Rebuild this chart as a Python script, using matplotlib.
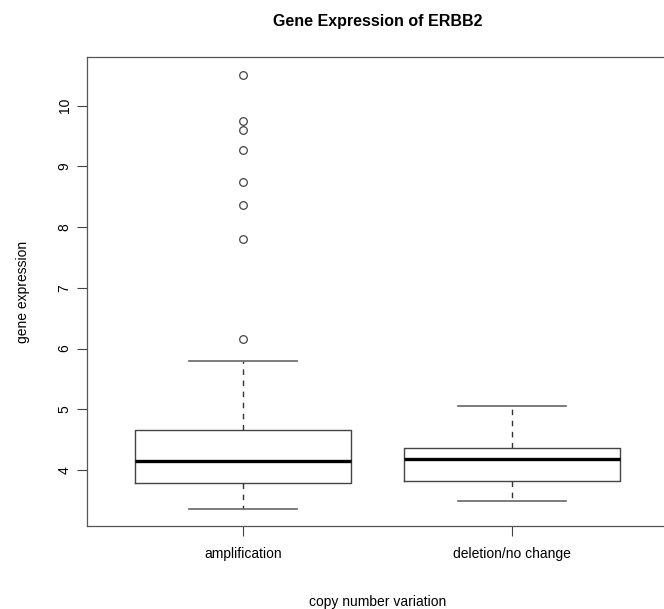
import matplotlib.pyplot as plt

plt.rcParams['font.family'] = ['Liberation Sans', 'DejaVu Sans']

# data
groups = ['amplification', 'deletion/no change']
whislo = [3.36, 3.49]
q1 = [3.79, 3.82]
med = [4.15, 4.18]
q3 = [4.66, 4.36]
whishi = [5.80, 5.05]
fliers_amp = [10.51, 9.75, 9.60, 9.26, 8.74, 8.37, 7.81, 6.15]
fliers_del = []
yticks = [4, 5, 6, 7, 8, 9, 10]

stats = []
for i, g in enumerate(groups):
    stats.append(dict(label=g, whislo=whislo[i], q1=q1[i], med=med[i],
                      q3=q3[i], whishi=whishi[i],
                      fliers=[fliers_amp, fliers_del][i]))

fig = plt.figure(figsize=(6.64, 6.09), dpi=100)
ax = fig.add_axes([0.131, 0.1355, 0.875, 0.771])

ax.bxp(stats, positions=[1, 2], widths=0.8,
       boxprops=dict(color='#444444', linewidth=1),
       medianprops=dict(color='black', linewidth=2.4),
       whiskerprops=dict(color='#333333', linewidth=1, linestyle=(0, (4, 4))),
       capprops=dict(color='#666666', linewidth=1.2),
       capwidths=0.4,
       flierprops=dict(marker='o', markersize=5.5, markerfacecolor='none',
                       markeredgecolor='#444444', markeredgewidth=0.9))

ax.set_xlim(0.42, 2.58)
ax.set_ylim(3.07, 10.80)
ax.set_yticks(yticks)
ax.set_yticklabels([str(t) for t in yticks], rotation=90, va='center')
ax.set_xticks([1, 2])
ax.set_xticklabels(groups)

ax.tick_params(axis='both', length=7, width=0.8, color='#444444', labelsize=10)
ax.tick_params(axis='x', pad=8)
ax.tick_params(axis='y', pad=4)
for s in ax.spines.values():
    s.set_color('#555555')
    s.set_linewidth(0.9)

ax.set_title('Gene Expression of ERBB2', fontsize=11.5, fontweight='bold', pad=22)
ax.set_xlabel('copy number variation', fontsize=10, labelpad=24)
ax.set_ylabel('gene expression', fontsize=10, labelpad=20)

fig.savefig('out.png', dpi=100)
